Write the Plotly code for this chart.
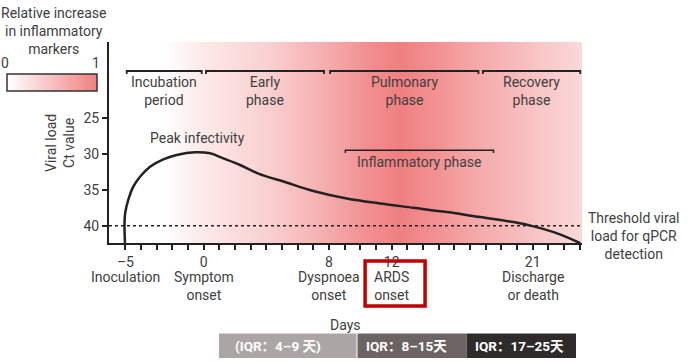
import plotly.graph_objects as go

# ---------------- data ----------------
curve_days = [-5.03, -5.06, -5.02, -4.82, -4.5, -4.07, -3.43, -2.58, -1.73, -0.56, 0.4, 1.25,
              2.32, 3.49, 5.19, 7.0, 9.13, 11.26, 13.39, 15.52, 17.65, 19.78, 21.06, 22.34, 23.4, 24.04]
curve_ct = [42.4, 39.9, 38.27, 36.41, 34.55, 33.16, 31.76, 30.73, 30.13, 29.75, 29.89, 30.59,
            31.52, 32.73, 33.9, 35.15, 36.2, 36.9, 37.5, 38.1, 38.8, 39.5, 40.1, 40.9, 41.8, 42.45]

marker_days = [-6.05, -2.5, 0, 4, 8, 10.5, 12.5, 14.5, 17, 21, 24.15]
marker_level = [0, 0, 0.18, 0.36, 0.66, 0.88, 1.0, 0.88, 0.7, 0.47, 0.3]

legend_scale = [0, 1]

threshold_ct = 40

phase_labels = ["Incubation<br>period", "Early<br>phase", "Pulmonary<br>phase", "Recovery<br>phase"]
phase_start = [-4.92, 0.14, 8.07, 17.82]
phase_end = [-0.13, 7.68, 17.54, 24.04]

inflam_label = "Inflammatory phase"
inflam_start = 9.04
inflam_end = 18.5

event_days = [-5, 0, 8, 12, 21]
event_labels = ["Inoculation", "Symptom<br>onset", "Dyspnoea<br>onset", "ARDS<br>onset", "Discharge<br>or death"]

y_ticks = [25, 30, 35, 40]
iqr_labels = ["(IQR：4–9 天)", "IQR：8–15天", "IQR：17–25天"]

# ---------------- styling ----------------
W, H = 688, 362
FONT = "Roboto, Noto Sans CJK SC, sans-serif"
TXT = "#404040"
INK = "#222222"
FS = 14
PEAK = "#f07f80"
CSCALE = [[0, "#ffffff"], [1, PEAK]]


def px(x):
    return x / W


def py(y):
    return (H - y) / H


fig = go.Figure()

fig.add_trace(go.Heatmap(
    x=marker_days, y=[10, 50], z=[marker_level, marker_level],
    zmin=0, zmax=1, zsmooth="best", colorscale=CSCALE, showscale=False,
    hoverinfo="skip", xaxis="x", yaxis="y",
))

fig.add_trace(go.Scatter(x=curve_days, y=curve_ct, mode="lines",
                         line=dict(color=INK, width=2.5, shape="spline", smoothing=1.0),
                         hoverinfo="skip", showlegend=False, xaxis="x", yaxis="y"))

# legend gradient bar
fig.add_trace(go.Heatmap(
    x=[0, 1], y=[0, 1], z=[legend_scale, legend_scale], zmin=0, zmax=1, zsmooth="best",
    colorscale=CSCALE, showscale=False, hoverinfo="skip", xaxis="x2", yaxis="y2",
))

x_tickvals = list(range(-5, 25))
x_ticktext = [("–5" if d == -5 else str(d)) if d in event_days else "" for d in x_tickvals]

fig.update_layout(
    width=W, height=H,
    margin=dict(l=0, r=0, t=0, b=0),
    paper_bgcolor="white", plot_bgcolor="rgba(0,0,0,0)",
    font=dict(family=FONT, size=FS, color=TXT),
    showlegend=False,
    xaxis=dict(domain=[px(109), px(582)], range=[-6.05, 24.15], showgrid=False, zeroline=False,
               showline=True, linecolor=INK, linewidth=2,
               ticks="outside", ticklen=5, tickwidth=1.5, tickcolor=INK,
               tickvals=x_tickvals, ticktext=x_ticktext,
               tickfont=dict(family=FONT, size=FS, color=TXT)),
    yaxis=dict(domain=[py(243), py(42)], range=[42.42, 14.34], showgrid=False, zeroline=False,
               showline=True, linecolor=INK, linewidth=2,
               ticks="outside", ticklen=5, tickwidth=1.5, tickcolor=INK,
               tickvals=y_ticks, tickfont=dict(family=FONT, size=FS, color=TXT)),
    xaxis2=dict(domain=[px(7), px(97)], range=[0, 1], visible=False, anchor="y2"),
    yaxis2=dict(domain=[py(91), py(74)], range=[0, 1], visible=False, anchor="x2"),
)

shapes = []
annotations = []


def note(x, y, text, xref="paper", yref="paper", yanchor="middle", **kw):
    d = dict(x=x, y=y, xref=xref, yref=yref, text=text, showarrow=False,
             xanchor="center", yanchor=yanchor, font=dict(size=FS, color=TXT))
    d.update(kw)
    annotations.append(d)


# legend bar outline
shapes.append(dict(type="rect", xref="paper", yref="paper", x0=px(7), x1=px(97), y0=py(91), y1=py(74),
                   line=dict(color="#333333", width=1.5)))

# threshold dotted line
shapes.append(dict(type="line", xref="x domain", x0=0, x1=1, yref="y", y0=threshold_ct, y1=threshold_ct,
                   line=dict(color=INK, width=1.5, dash="dot")))

# phase brackets
BR_Y, BR_T, TX_Y = 18.39, 18.8, 21.2
for lab, s, e in zip(phase_labels, phase_start, phase_end):
    shapes.append(dict(type="path", xref="x", yref="y",
                       path=f"M {s},{BR_T} L {s},{BR_Y} L {e},{BR_Y} L {e},{BR_T}",
                       line=dict(color=INK, width=1.8)))
    note((s + e) / 2, TX_Y, lab, xref="x", yref="y")

shapes.append(dict(type="path", xref="x", yref="y",
                   path=f"M {inflam_start},29.85 L {inflam_start},29.47 L {inflam_end},29.47 L {inflam_end},29.85",
                   line=dict(color=INK, width=1.5)))
note((inflam_start + inflam_end) / 2, 31.1, inflam_label, xref="x", yref="y")

note(-0.43, 27.8, "Peak infectivity", xref="x", yref="y")

# event labels under the axis
for d, lab in zip(event_days, event_labels):
    note(d, py(267), lab, xref="x", yanchor="top")

# ARDS red box
shapes.append(dict(type="rect", xref="x", yref="paper", x0=10.3, x1=14.13, y0=py(261), y1=py(306),
                   line=dict(color="#c00000", width=3.5)))

# y axis title
note(px(60), py(143), "Viral load<br>Ct value", textangle=-90)

# threshold label
note(px(633), py(236), "Threshold viral<br>load for qPCR<br>detection")

# Days
note(px(345), py(325), "Days")

# colorbar legend text
note(px(53), py(3), "Relative increase<br>in inflammatory<br>markers", yanchor="top")
note(px(5), py(63), "0")
note(px(96), py(63), "1")

# IQR bars
bar_px = [(219, 356.5), (357.5, 466.7), (466.7, 576)]
bar_col = ["#aba6a5", "#6c6462", "#2f2b2a"]
bar_txt = [278, 406, 519]
for (x0, x1), c, lab, tx in zip(bar_px, bar_col, iqr_labels, bar_txt):
    shapes.append(dict(type="rect", xref="paper", yref="paper", x0=px(x0), x1=px(x1), y0=py(333.5), y1=py(358),
                       line=dict(width=0), fillcolor=c))
    note(px(tx), py(345.5), f"<b>{lab}</b>",
         font=dict(size=13.5, color="white", family="Roboto, Noto Sans CJK SC, sans-serif"))

fig.update_layout(shapes=shapes, annotations=annotations)
fig.write_html("out.html", config={"displayModeBar": False},
               post_script="document.body.style.margin='0';")
